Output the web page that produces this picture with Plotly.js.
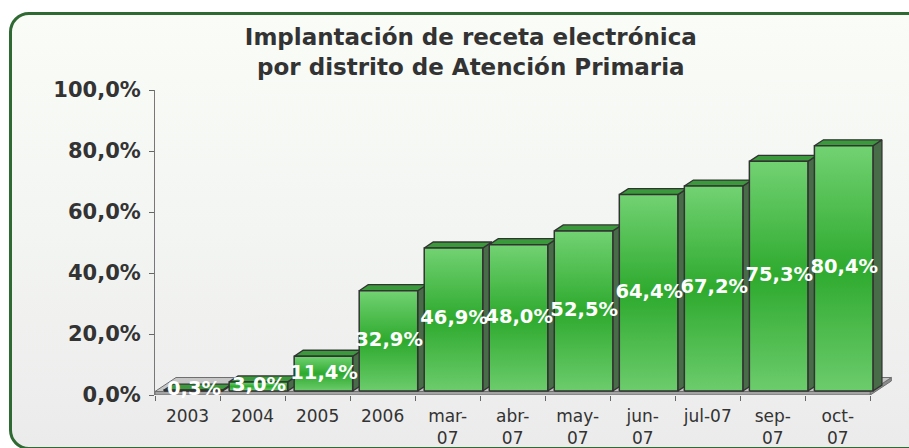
<!DOCTYPE html>
<html>
<head>
<meta charset="utf-8">
<script src="https://cdn.plot.ly/plotly-3.0.1.min.js"></script>
<style>
  html, body { margin:0; padding:0; background:#ffffff; }
  #wrap { position:relative; width:909px; height:448px; overflow:hidden; }
  #frame { position:absolute; left:9px; top:12px; width:914px; height:432px;
           border:3px solid #2f6a33; border-radius:20px;
           background:linear-gradient(to bottom, #f9fcf7 0%, #f3f5f2 50%, #ebebeb 100%); }
  #chart { position:absolute; left:0; top:0; width:909px; height:448px; }
</style>
</head>
<body>
<div id="wrap"><div id="frame"></div><div id="chart"></div></div>
<script>
// ---- data ----
const categories = ['2003','2004','2005','2006','mar-07','abr-07','may-07','jun-07','jul-07','sep-07','oct-07'];
const tickLabels = ['2003','2004','2005','2006','mar-<br>07','abr-<br>07','may-<br>07','jun-<br>07','jul-07','sep-<br>07','oct-<br>07'];
const values = [0.3, 3.0, 11.4, 32.9, 46.9, 48.0, 52.5, 64.4, 67.2, 75.3, 80.4];
const yTicks = [0, 20, 40, 60, 80, 100];

// ---- 3D look (style constants) ----
const FONT = 'DejaVu Sans, Verdana, sans-serif';
const pxPerX = 65.03, pxPerY = 3.053;
const depthX = 9 / pxPerX, depthY = 6 / pxPerY;        // bar depth
const floorDX = 21 / pxPerX, floorDY = 14 / pxPerY;    // floor depth
const floorT = 1.15;                                   // floor slab thickness
const base = 1.3;                                      // bars stand on the floor
const leftOff = -0.36, rightOff = 0.54;
const n = categories.length;
const xMin = -0.5, xMax = n - 0.5;

const fmt = v => v.toFixed(1).replace('.', ',') + '%';

const traces = [];
function poly(xs, ys, fill, lineColor, lw, extra) {
  const t = Object.assign({
    type:'scatter', mode:'lines', x: xs.concat([xs[0]]), y: ys.concat([ys[0]]),
    fill:'toself', fillcolor: fill, line:{color: lineColor, width: lw},
    hoverinfo:'skip', showlegend:false
  }, extra || {});
  traces.push(t);
}
// floor slab
poly([xMin, xMax, xMax, xMin], [0, 0, floorT, floorT], '#a3a3a3', '#6f6f6f', 1);
poly([xMax, xMax + floorDX, xMax + floorDX, xMax], [0, floorDY, floorDY + floorT, floorT], '#8c8c8c', '#6f6f6f', 1);
poly([xMin, xMax, xMax + floorDX, xMin + floorDX], [floorT, floorT, floorT + floorDY, floorT + floorDY], '#c6c6c6', '#6f6f6f', 1);

const gradScale = [[0, '#6ccc6c'], [0.5, '#2eaa2e'], [1, '#72d272']];
values.forEach((v, i) => {
  const L = i + leftOff, R = i + rightOff, B = base, T = base + v;
  poly([R, R + depthX, R + depthX, R], [B, B + depthY, T + depthY, T], '#486b48', '#333333', 1.3);
  poly([L, R, R + depthX, L + depthX], [T, T, T + depthY, T + depthY], '#3a993a', '#333333', 1.3);
  poly([L, R, R, L], [B, B, T, T], '#4cbc4c', '#333333', 1.5,
       {fillgradient:{type:'vertical', colorscale: gradScale}});
});

// data labels
traces.push({
  type:'scatter', mode:'text',
  x: values.map((v, i) => i + 0.1),
  y: values.map(v => base + v / 2),
  text: values.map(fmt),
  textposition:'middle center',
  textfont:{family: FONT, size:19.5, color:'#ffffff', weight:'bold'},
  cliponaxis:false, hoverinfo:'skip', showlegend:false
});

const boundaries = categories.map((c, i) => i - 0.5).concat([n - 0.5]);

const layout = {
  width:909, height:448,
  margin:{l:155, r:13, t:90, b:53},
  paper_bgcolor:'rgba(0,0,0,0)', plot_bgcolor:'rgba(0,0,0,0)',
  hovermode:false,
  showlegend:false,
  title:{
    text:'Implantación de receta electrónica<br>por distrito de Atención Primaria',
    font:{family: FONT, size:23, color:'#333333', weight:'bold'},
    x:0.518, xref:'container', xanchor:'center',
    y:0.90, yref:'container', yanchor:'top'
  },
  xaxis:{
    range:[xMin, xMin + 741 / pxPerX],
    showgrid:false, zeroline:false, showline:false,
    tickmode:'array', tickvals: categories.map((c, i) => i), ticktext: tickLabels,
    ticks:'', ticklabelstandoff: 9,
    tickfont:{family: FONT, size:17, color:'#333333'},
    minor:{tickmode:'array', tickvals: boundaries, ticks:'outside', ticklen:5, tickcolor:'#666666', tickwidth:1, showgrid:false},
    fixedrange:true
  },
  yaxis:{
    range:[0, 100],
    showgrid:false, zeroline:false,
    showline:true, linecolor:'#777777', linewidth:1,
    tickmode:'array', tickvals: yTicks, ticktext: yTicks.map(fmt),
    ticks:'outside', ticklen:5, tickcolor:'#666666',
    ticklabelstandoff: 4,
    tickfont:{family: FONT, size:21, color:'#333333', weight:'bold'},
    fixedrange:true
  }
};

Plotly.newPlot('chart', traces, layout, {displayModeBar:false, staticPlot:true});
</script>
</body>
</html>
